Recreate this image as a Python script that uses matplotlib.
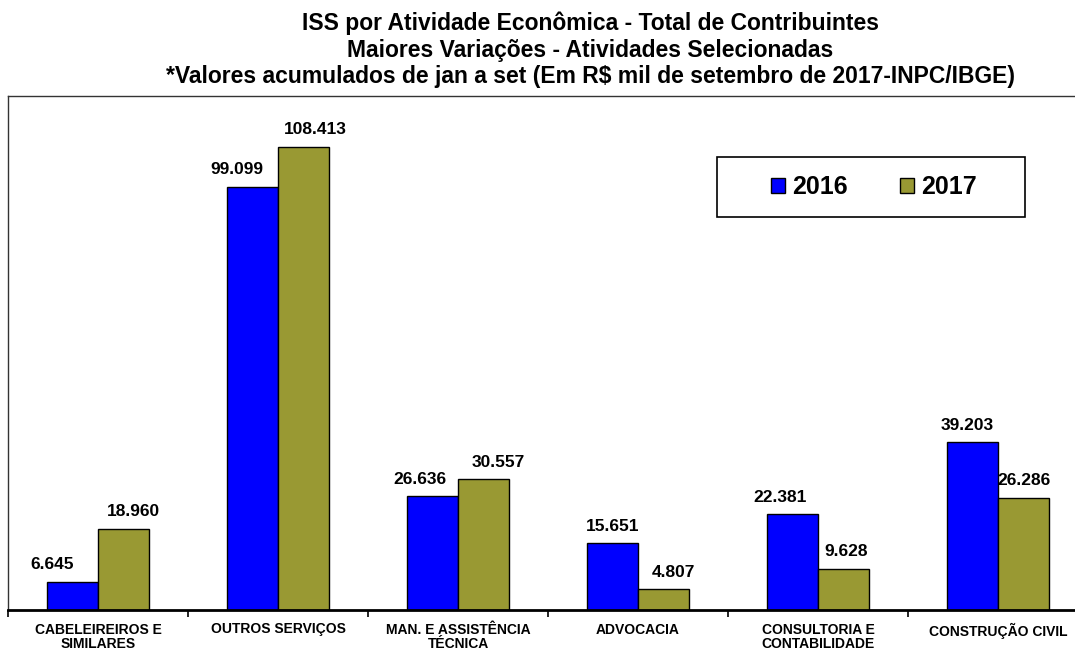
import matplotlib
matplotlib.use("Agg")
import matplotlib.pyplot as plt
from matplotlib.patches import Rectangle, Patch
import numpy as np

plt.rcParams['font.family'] = ['Liberation Sans', 'DejaVu Sans']

categories = ["CABELEIREIROS E\nSIMILARES", "OUTROS SERVIÇOS", "MAN. E ASSISTÊNCIA\nTÉCNICA",
              "ADVOCACIA", "CONSULTORIA E\nCONTABILIDADE", "CONSTRUÇÃO CIVIL"]
values_2016 = [6645, 99099, 26636, 15651, 22381, 39203]
values_2017 = [18960, 108413, 30557, 4807, 9628, 26286]
series_names = ["2016", "2017"]

title_lines = ["ISS por Atividade Econômica - Total de Contribuintes",
               "Maiores Variações - Atividades Selecionadas",
               "*Valores acumulados de jan a set (Em R$ mil de setembro de 2017-INPC/IBGE)"]

# horizontal nudges (pixels) for the value labels
dx_2016 = [-20, -15, -12, 0, -12, -5]
dx_2017 = [10, 12, 15, 10, 2, 0]

c2016 = "#0000FF"
c2017 = "#999933"

W, H = 1075, 650
fig = plt.figure(figsize=(W / 100, H / 100), dpi=100)
ax = fig.add_axes([8 / W, 40 / H, 1080 / W, 514 / H])

x = np.arange(len(categories))
bw = 0.285
ax.bar(x - bw, values_2016, width=bw, align='edge', color=c2016, edgecolor='black', linewidth=1)
ax.bar(x, values_2017, width=bw, align='edge', color=c2017, edgecolor='black', linewidth=1)

def fmt(v):
    return f"{v:,}".replace(",", ".")

for i in range(len(categories)):
    ax.annotate(fmt(values_2016[i]), (x[i] - bw / 2, values_2016[i]),
                xytext=(dx_2016[i], 17), textcoords='offset pixels',
                ha='center', va='center', fontsize=12.5, fontweight='bold')
    ax.annotate(fmt(values_2017[i]), (x[i] + bw / 2, values_2017[i]),
                xytext=(dx_2017[i], 17), textcoords='offset pixels',
                ha='center', va='center', fontsize=12.5, fontweight='bold')

ax.set_xlim(-0.5, len(categories) - 0.5)
ax.set_ylim(0, 120300)
ax.set_yticks([])

ax.set_xticks(x)
ax.set_xticklabels(categories, fontsize=10, fontweight='bold', linespacing=1.05)
ax.tick_params(axis='x', which='major', length=0, pad=9)
ax.set_xticks(np.arange(-0.5, len(categories), 1.0), minor=True)
ax.tick_params(axis='x', which='minor', length=5, width=1.2, direction='out')

for side in ['left', 'top', 'right']:
    ax.spines[side].set_linewidth(1.0)
    ax.spines[side].set_color('#333333')
ax.spines['bottom'].set_linewidth(2.0)

# title block
for k, line in enumerate(title_lines):
    fig.text(590 / W, 1 - (23 + 27 * k) / H, line, ha='center', va='center',
             fontsize=16.5, fontweight='bold')

# legend with square frame
fig.patches.append(Rectangle((717 / W, 1 - 217 / H), 308 / W, 60 / H,
                             transform=fig.transFigure, facecolor='white',
                             edgecolor='black', linewidth=1.2, zorder=3))
handles = [Patch(facecolor=c2016, edgecolor='black', linewidth=1),
           Patch(facecolor=c2017, edgecolor='black', linewidth=1)]
leg = fig.legend(handles, series_names, loc='center', bbox_to_anchor=(874 / W, 1 - 187 / H),
                 ncol=2, frameon=False, prop={'size': 18, 'weight': 'bold'},
                 handlelength=0.55, handleheight=0.55, handletextpad=0.3, columnspacing=2.1)
leg.set_zorder(4)

fig.savefig("out.png", dpi=100)
